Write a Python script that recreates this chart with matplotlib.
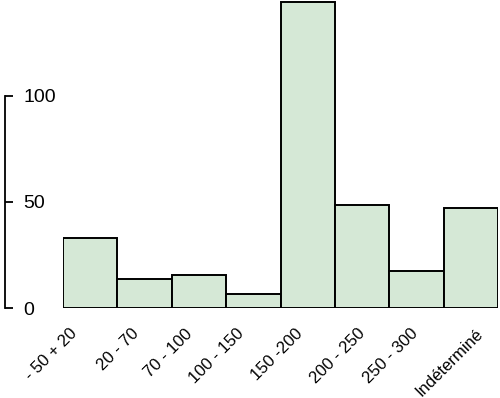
import matplotlib
matplotlib.use('Agg')
import matplotlib.pyplot as plt
import matplotlib.transforms as mtransforms

# Bin labels and counts
categories = ['- 50 + 20', '20 - 70', '70 - 100', '100 - 150',
              '150 -200', '200 - 250', '250 - 300', 'Indéterminé']
counts = [33, 13.5, 15.5, 6.5, 144, 48.5, 17.5, 47]
yticks = [0, 50, 100]

# the original labels sit a little irregularly under the bars (pixels)
label_shift = [-21, -13, -14, -17, -13, -5, -6, 5]

plt.rcParams['font.family'] = ['Liberation Sans', 'DejaVu Sans']

fig = plt.figure(figsize=(5, 3.98), dpi=100)
ax = fig.add_axes([0.126, 0.226, 0.870, 0.774])

x = range(len(categories))
ax.bar(x, counts, width=1.0, align='center', color='#d5e8d6',
       edgecolor='black', linewidth=1.4)

ax.set_xlim(-0.5, len(categories) - 0.5)
ax.set_ylim(0, 145)

# only a left axis, clipped to the tick range, offset from the bars
for s in ['top', 'right', 'bottom']:
    ax.spines[s].set_visible(False)
ax.spines['left'].set_position(('outward', 42))
ax.spines['left'].set_bounds(0, 100)
ax.spines['left'].set_linewidth(1.3)

ax.set_yticks(yticks)
ax.tick_params(axis='y', direction='in', length=6, width=1.3, labelsize=14, pad=-13.5)
for lab in ax.get_yticklabels():
    lab.set_horizontalalignment('left')

ax.set_xticks(list(x))
ax.set_xticklabels(categories, rotation=45, ha='right', rotation_mode='anchor', fontsize=12)
ax.tick_params(axis='x', length=0, pad=13)
for lab, dx in zip(ax.get_xticklabels(), label_shift):
    off = mtransforms.ScaledTranslation(dx / 100, 0, fig.dpi_scale_trans)
    lab.set_transform(lab.get_transform() + off)

fig.savefig('out.png', dpi=100)
